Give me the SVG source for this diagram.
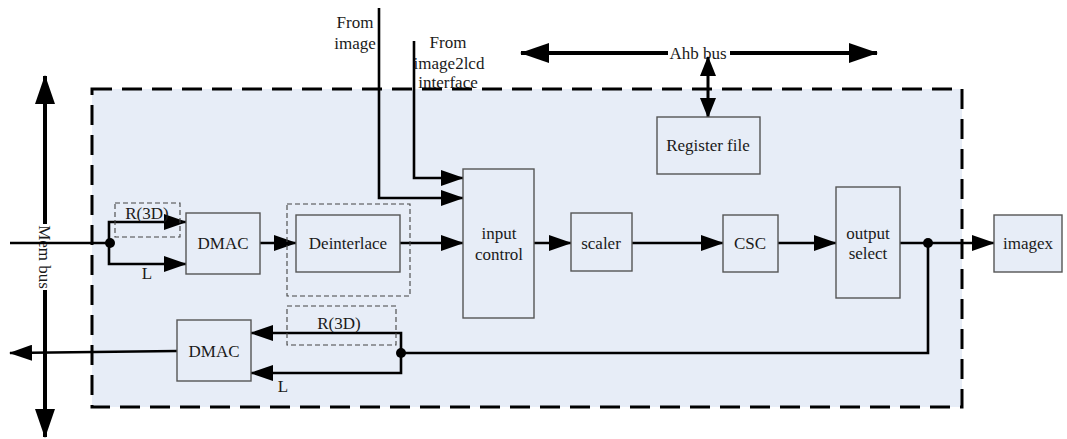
<svg xmlns="http://www.w3.org/2000/svg" width="1067" height="439" viewBox="0 0 1067 439" font-family="Liberation Serif, DejaVu Serif, serif">
<style>
text{font-family:"Liberation Serif","DejaVu Serif",serif;font-size:17px;fill:#1a1a1a;text-anchor:middle}
.box{fill:#e7edf7;stroke:#555;stroke-width:1.4}
.dbox{fill:none;stroke:#444;stroke-width:1.1;stroke-dasharray:5 3}
.c{fill:none;stroke:#000;stroke-width:2.6;marker-end:url(#ah)}
.n{fill:none;stroke:#000;stroke-width:2.6}
.bus{fill:none;stroke:#000;stroke-width:4;marker-start:url(#bh);marker-end:url(#bh)}
</style>
<defs>
<marker id="ah" viewBox="0 0 23 16" refX="22" refY="8" markerWidth="23" markerHeight="16" markerUnits="userSpaceOnUse" orient="auto"><path d="M0,0 L23,8 L0,16 z" fill="#000"/></marker>
<marker id="bh" viewBox="0 0 29 20" refX="28" refY="10" markerWidth="29" markerHeight="20" markerUnits="userSpaceOnUse" orient="auto-start-reverse"><path d="M0,0 L29,10 L0,20 z" fill="#000"/></marker>
<marker id="vh" viewBox="0 0 20 16" refX="19" refY="8" markerWidth="20" markerHeight="16" markerUnits="userSpaceOnUse" orient="auto-start-reverse"><path d="M0,0 L20,8 L0,16 z" fill="#000"/></marker>
</defs>
<g id="container">
<rect x="92" y="89" width="870" height="318" fill="#e7edf7" stroke="#000" stroke-width="3" stroke-dasharray="20 10"/>
</g>
<g id="mem-bus">
<line x1="45" y1="76" x2="45" y2="437" class="bus"/>
<rect x="37" y="224" width="16" height="66" fill="#fff"/>
<text transform="translate(45,257) rotate(90)" dy="0.35em">Mem bus</text>
</g>
<g id="ahb-bus">
<line x1="521" y1="53" x2="877" y2="53" class="bus"/>
<rect x="668" y="45" width="62" height="17" fill="#fff"/>
<text x="698" y="59">Ahb bus</text>
</g>
<g id="connectors">
<line x1="708" y1="57" x2="708" y2="117" stroke="#000" stroke-width="3" marker-start="url(#vh)" marker-end="url(#vh)"/>
<path class="n" d="M10,243 H110"/>
<path class="c" d="M109,243 V222 H186"/>
<path class="c" d="M109,243 V264 H186"/>
<path class="c" d="M260,243 H296"/>
<path class="c" d="M400,243 H463"/>
<path class="c" d="M379,8 V198 H463"/>
<path class="c" d="M414,41 V178 H463"/>
<path class="c" d="M534,243 H571"/>
<path class="c" d="M632,243 H723"/>
<path class="c" d="M778,243 H836"/>
<path class="c" d="M900,243 H994"/>
<path class="n" d="M928,243 V353 H401"/>
<path class="c" d="M401,353 V333 H251"/>
<path class="c" d="M401,353 V373 H251"/>
<path class="c" d="M177,351 L10,353"/>
<circle cx="110" cy="243" r="5" fill="#000"/>
<circle cx="928" cy="243" r="5" fill="#000"/>
<circle cx="401" cy="353" r="5" fill="#000"/>
</g>
<g id="labels">
<text x="355" y="28">From</text>
<text x="355" y="49">image</text>
<text x="448" y="48">From</text>
<text x="449" y="69">image2lcd</text>
<text x="448" y="88">interface</text>
<rect class="dbox" x="115" y="203" width="65" height="34"/>
<text x="147" y="219">R(3D)</text>
<text x="147" y="279">L</text>
<rect class="dbox" x="287" y="306" width="109" height="39"/>
<text x="339" y="329">R(3D)</text>
<text x="283" y="392">L</text>
</g>
<g id="dmac-in"><rect class="box" x="186" y="213" width="74" height="61"/><text x="223" y="249">DMAC</text></g>
<g id="deinterlace"><rect class="dbox" x="287" y="204" width="123" height="92"/><rect class="box" x="296" y="215" width="104" height="57"/><text x="348" y="249">Deinterlace</text></g>
<g id="input-control"><rect class="box" x="463" y="169" width="71" height="149"/><text x="499" y="239">input</text><text x="499" y="260">control</text></g>
<g id="scaler"><rect class="box" x="571" y="213" width="61" height="58"/><text x="601" y="249">scaler</text></g>
<g id="csc"><rect class="box" x="723" y="215" width="55" height="57"/><text x="750" y="249">CSC</text></g>
<g id="output-select"><rect class="box" x="836" y="187" width="64" height="111"/><text x="868" y="239">output</text><text x="868" y="259">select</text></g>
<g id="imagex"><rect class="box" x="994" y="215" width="68" height="57"/><text x="1028" y="249">imagex</text></g>
<g id="register-file"><rect class="box" x="657" y="117" width="103" height="57"/><text x="708" y="151">Register file</text></g>
<g id="dmac-out"><rect class="box" x="177" y="320" width="74" height="61"/><text x="214" y="357">DMAC</text></g>
</svg>
